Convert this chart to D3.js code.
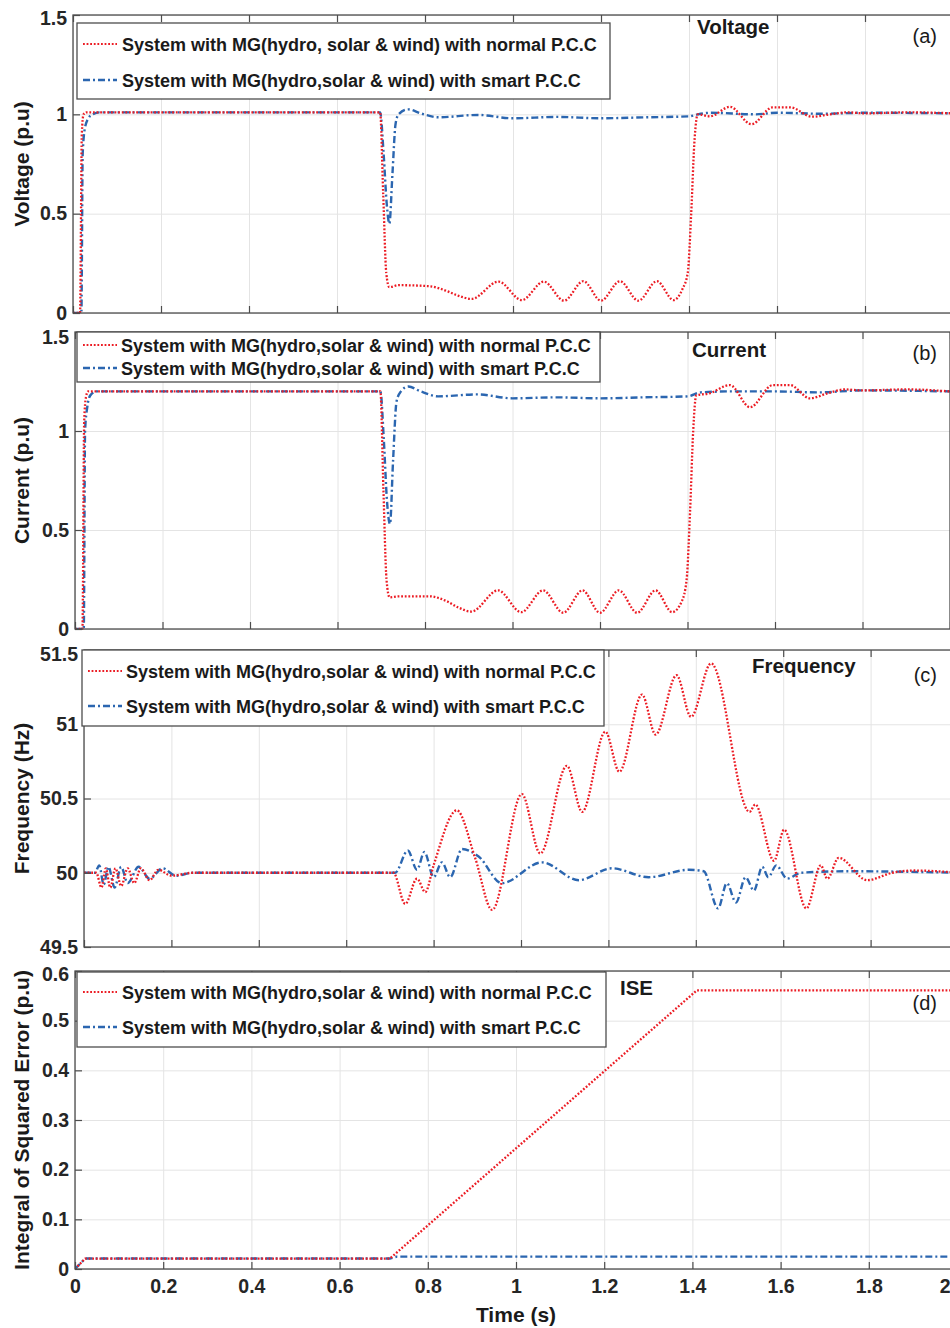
<!DOCTYPE html>
<html>
<head>
<meta charset="utf-8">
<script src="https://cdn.jsdelivr.net/npm/d3@7"></script>
<style>
  body { margin: 0; background: #fff; }
  svg { display: block; font-family: "Liberation Sans", Arial, sans-serif; }
  .grid line { stroke: #e4e4e4; stroke-width: 1; }
  .grid path { display: none; }
  .axis path { display: none; }
  .axis line { stroke: #4d4d4d; stroke-width: 1.2; }
  .axis text { font-size: 19.5px; font-weight: bold; fill: #262626; }
</style>
</head>
<body>
<div id="chart"></div>
<script>
// ---- data: [time (s), value] ----
const timeTicks = [0, 0.2, 0.4, 0.6, 0.8, 1, 1.2, 1.4, 1.6, 1.8, 2];

const voltTicks = [0, 0.5, 1, 1.5];
const currTicks = [0, 0.5, 1, 1.5];
const freqTicks = [49.5, 50, 50.5, 51, 51.5];
const iseTicks = [0, 0.1, 0.2, 0.3, 0.4, 0.5, 0.6];

const voltNormal = [[0,0],[0.016,0],[0.02,0.9],[0.024,1.0],[0.03,1.01],[0.3,1.01],[0.5,1.01],[0.698,1.01],
  [0.705,0.6],[0.712,0.2],[0.719,0.13],[0.74,0.14],[0.81,0.135],[0.85,0.11],[0.872,0.09],[0.906,0.071],
  [0.967,0.158],[1.02,0.065],[1.07,0.158],[1.116,0.062],[1.16,0.16],[1.2,0.062],[1.243,0.16],[1.285,0.062],
  [1.327,0.16],[1.365,0.065],[1.385,0.12],[1.397,0.2],[1.405,0.5],[1.412,0.85],[1.42,1.0],[1.448,0.99],
  [1.493,1.038],[1.542,0.95],[1.59,1.035],[1.63,1.035],[1.68,0.988],[1.72,1.0],[1.76,1.01],[1.8,1.005],
  [1.9,1.01],[2,1.005]];

const voltSmart = [[0,0],[0.019,0],[0.022,0.8],[0.027,0.93],[0.035,0.98],[0.045,1.0],[0.06,1.01],[0.3,1.01],
  [0.698,1.01],[0.706,0.8],[0.713,0.55],[0.719,0.45],[0.726,0.7],[0.733,0.95],[0.74,1.0],[0.762,1.025],
  [0.79,1.005],[0.83,0.985],[0.92,0.997],[1.0,0.98],[1.1,0.987],[1.2,0.98],[1.3,0.985],[1.4,0.99],
  [1.42,1.0],[1.45,1.008],[1.55,1.0],[1.6,1.008],[1.7,1.003],[1.8,1.008],[2,1.005]];

const currNormal = [[0,0],[0.017,0],[0.021,1.05],[0.025,1.17],[0.03,1.2],[0.698,1.2],[0.705,0.7],[0.712,0.25],
  [0.719,0.16],[0.74,0.165],[0.81,0.165],[0.85,0.14],[0.875,0.11],[0.906,0.088],[0.967,0.195],[1.02,0.085],
  [1.07,0.195],[1.116,0.082],[1.16,0.195],[1.2,0.082],[1.243,0.195],[1.285,0.082],[1.327,0.195],[1.365,0.085],
  [1.387,0.14],[1.398,0.25],[1.406,0.6],[1.413,1.0],[1.42,1.18],[1.45,1.19],[1.497,1.232],[1.543,1.12],
  [1.595,1.232],[1.634,1.232],[1.68,1.165],[1.72,1.19],[1.76,1.21],[1.8,1.205],[1.9,1.21],[2,1.2]];

const currSmart = [[0,0],[0.02,0],[0.023,1.0],[0.028,1.12],[0.035,1.18],[0.05,1.2],[0.698,1.2],[0.706,0.95],
  [0.713,0.65],[0.72,0.53],[0.727,0.85],[0.735,1.15],[0.745,1.2],[0.762,1.225],[0.79,1.2],[0.83,1.175],
  [0.92,1.185],[1.0,1.165],[1.1,1.17],[1.2,1.165],[1.3,1.17],[1.4,1.175],[1.43,1.195],[1.5,1.2],
  [1.6,1.2],[1.7,1.195],[1.8,1.205],[2,1.2]];

const freqNormal = [[0,50],[0.028,50],[0.04,49.9],[0.05,50.03],[0.06,49.9],[0.072,50.03],[0.085,49.91],
  [0.1,50.03],[0.115,49.93],[0.13,50.03],[0.15,49.95],[0.17,50.02],[0.2,49.98],[0.25,50.0],[0.708,50.0],
  [0.735,49.79],[0.762,49.96],[0.781,49.87],[0.8,50.05],[0.853,50.42],[0.895,50.1],[0.934,49.75],
  [1.002,50.53],[1.044,50.13],[1.105,50.72],[1.14,50.41],[1.193,50.95],[1.225,50.68],[1.277,51.2],
  [1.308,50.93],[1.356,51.33],[1.389,51.05],[1.435,51.41],[1.523,50.41],[1.536,50.46],[1.579,50.08],
  [1.602,50.29],[1.653,49.76],[1.686,50.05],[1.701,49.96],[1.727,50.1],[1.792,49.95],[1.85,50.0],
  [1.9,50.015],[2,50.0]];

const freqSmart = [[0,50],[0.025,50],[0.035,50.05],[0.045,49.92],[0.056,50.04],[0.07,49.9],[0.085,50.04],
  [0.1,49.93],[0.125,50.04],[0.15,49.96],[0.18,50.03],[0.21,49.98],[0.25,50.0],[0.712,50.0],[0.741,50.15],
  [0.762,50.02],[0.779,50.14],[0.8,49.97],[0.819,50.07],[0.838,49.97],[0.865,50.16],[0.903,50.11],
  [0.956,49.93],[1.048,50.07],[1.132,49.95],[1.208,50.03],[1.292,49.97],[1.384,50.02],[1.418,50.01],
  [1.451,49.76],[1.471,49.93],[1.492,49.8],[1.514,49.97],[1.533,49.88],[1.552,50.04],[1.566,49.97],
  [1.584,50.05],[1.609,49.96],[1.64,50.0],[1.75,50.01],[2,50.0]];

const iseNormal = [[0,0],[0.023,0.021],[0.714,0.021],[1.41,0.561],[2,0.561]];
const iseSmart = [[0,0],[0.023,0.021],[0.714,0.021],[0.73,0.025],[2,0.025]];

const legendA = ["System with MG(hydro, solar & wind) with normal P.C.C",
                 "System with MG(hydro,solar & wind) with smart P.C.C"];
const legendB = ["System with MG(hydro,solar & wind) with normal P.C.C",
                 "System with MG(hydro,solar & wind) with smart P.C.C"];

const RED = "#ec1c24";
const BLUE = "#2b66b0";

const svg = d3.select("#chart").append("svg")
    .attr("width", 950)
    .attr("height", 1328);

const panels = [
  {id: "a", left: 73, right: 953, top: 15, bottom: 313, yDomain: [0, 1.5], yTicks: voltTicks,
   normal: voltNormal, smart: voltSmart, curve: d3.curveMonotoneX, yLabel: "Voltage (p.u)",
   legend: legendA, box: [77, 23, 533, 76], rows: [51, 87], sampleX: 83, textX: 122,
   title: "Voltage", titleX: 697, titleY: 34, tag: "(a)", tagY: 43, topShift: 3},
  {id: "b", left: 75, right: 950, top: 332, bottom: 629, yDomain: [0, 1.5], yTicks: currTicks,
   normal: currNormal, smart: currSmart, curve: d3.curveMonotoneX, yLabel: "Current (p.u)",
   legend: legendB, box: [77, 332, 523, 50], rows: [352, 375], sampleX: 83, textX: 121,
   title: "Current", titleX: 692, titleY: 357, tag: "(b)", tagY: 360, topShift: 5},
  {id: "c", left: 84, right: 958, top: 650, bottom: 947, yDomain: [49.5, 51.5], yTicks: freqTicks,
   normal: freqNormal, smart: freqSmart, curve: d3.curveMonotoneX, yLabel: "Frequency (Hz)",
   legend: legendB, box: [82, 650, 522, 76], rows: [678, 713], sampleX: 88, textX: 126,
   title: "Frequency", titleX: 752, titleY: 673, tag: "(c)", tagY: 682, topShift: 4},
  {id: "d", left: 75, right: 957, top: 971, bottom: 1269, yDomain: [0, 0.6], yTicks: iseTicks,
   normal: iseNormal, smart: iseSmart, curve: d3.curveLinear, yLabel: "Integral of Squared Error (p.u)",
   legend: legendB, box: [77, 972, 529, 75], rows: [999, 1034], sampleX: 83, textX: 122,
   title: "ISE", titleX: 620, titleY: 995, tag: "(d)", tagY: 1010, topShift: 3, showTime: true}
];

panels.forEach(p => drawPanel(p));

function drawPanel(p)
{
    let g = svg.append("g").attr("class", "panel-" + p.id);
    let w = p.right - p.left;
    let h = p.bottom - p.top;

    let xScale = d3.scaleLinear().domain([0, 2]).range([p.left, p.right]);
    let yScale = d3.scaleLinear().domain(p.yDomain).range([p.bottom, p.top]);

    // grid
    g.append("g").attr("class", "grid")
        .attr("transform", `translate(0,${p.bottom})`)
        .call(d3.axisBottom(xScale).tickValues(timeTicks).tickSize(-h).tickFormat(""));
    g.append("g").attr("class", "grid")
        .attr("transform", `translate(${p.left},0)`)
        .call(d3.axisLeft(yScale).tickValues(p.yTicks).tickSize(-w).tickFormat(""));

    // curves
    g.append("clipPath").attr("id", "clip-" + p.id)
        .append("rect").attr("x", p.left).attr("y", p.top - 2).attr("width", w).attr("height", h + 3);

    let line = d3.line()
        .x(d => xScale(d[0]))
        .y(d => yScale(d[1]))
        .curve(p.curve);

    g.append("path").datum(p.smart)
        .attr("clip-path", `url(#clip-${p.id})`)
        .attr("d", line)
        .attr("fill", "none")
        .attr("stroke", BLUE)
        .attr("stroke-width", 2.4)
        .attr("stroke-dasharray", "7,3,2,3");

    g.append("path").datum(p.normal)
        .attr("clip-path", `url(#clip-${p.id})`)
        .attr("d", line)
        .attr("fill", "none")
        .attr("stroke", RED)
        .attr("stroke-width", 2.3)
        .attr("stroke-dasharray", "1.8,1.8");

    // frame
    g.append("rect")
        .attr("x", p.left).attr("y", p.top)
        .attr("width", w).attr("height", h)
        .attr("fill", "none")
        .attr("stroke", "#4d4d4d")
        .attr("stroke-width", 1.3);

    // axes with inward ticks
    let xBottom = d3.axisBottom(xScale).tickValues(timeTicks).tickSize(-7).tickSizeOuter(0).tickPadding(10)
        .tickFormat(p.showTime ? d3.format("~g") : "");
    let xAxisG = g.append("g").attr("class", "axis")
        .attr("transform", `translate(0,${p.bottom})`)
        .call(xBottom);
    xAxisG.attr("font-size", null).attr("font-family", null);

    g.append("g").attr("class", "axis")
        .attr("transform", `translate(0,${p.top})`)
        .call(d3.axisTop(xScale).tickValues(timeTicks).tickSize(-7).tickSizeOuter(0).tickFormat(""));

    let yAxisG = g.append("g").attr("class", "axis")
        .attr("transform", `translate(${p.left},0)`)
        .call(d3.axisLeft(yScale).tickValues(p.yTicks).tickSize(-7).tickSizeOuter(0).tickPadding(6)
            .tickFormat(d3.format("~g")));
    yAxisG.attr("font-size", null).attr("font-family", null);

    // the top label sits a little below its tick, as in the figure
    let yMax = p.yDomain[1];
    yAxisG.selectAll(".tick text")
        .filter(d => Math.abs(d - yMax) < 1e-9)
        .attr("y", p.topShift);

    if (p.showTime) {
        // the last label sits at the cut edge of the picture
        xAxisG.selectAll(".tick text")
            .filter(d => d === 2)
            .attr("text-anchor", "end")
            .attr("dx", 950 - xScale(2));

        svg.append("text")
            .attr("x", 516)
            .attr("y", 1322)
            .attr("text-anchor", "middle")
            .attr("font-size", "21px")
            .attr("font-weight", "bold")
            .attr("fill", "#1a1a1a")
            .text("Time (s)");
    }

    // y label
    g.append("text")
        .attr("transform", `translate(29,${(p.top + p.bottom) / 2}) rotate(-90)`)
        .attr("text-anchor", "middle")
        .attr("font-size", "21px")
        .attr("font-weight", "bold")
        .attr("fill", "#1a1a1a")
        .text(p.yLabel);

    // title and tag
    g.append("text")
        .attr("x", p.titleX).attr("y", p.titleY)
        .attr("font-size", "20.5px")
        .attr("font-weight", "bold")
        .attr("fill", "#1a1a1a")
        .text(p.title);

    g.append("text")
        .attr("x", 937).attr("y", p.tagY)
        .attr("text-anchor", "end")
        .attr("font-size", "20px")
        .attr("fill", "#1a1a1a")
        .text(p.tag);

    // legend
    let lg = g.append("g").attr("class", "legend");
    lg.append("rect")
        .attr("x", p.box[0]).attr("y", p.box[1])
        .attr("width", p.box[2]).attr("height", p.box[3])
        .attr("fill", "white")
        .attr("stroke", "#4d4d4d")
        .attr("stroke-width", 1.3);

    let styles = [
        {color: RED, dash: "1.8,1.8", width: 2.2},
        {color: BLUE, dash: "7,3,2,3", width: 2.4}
    ];

    p.legend.forEach((label, i) => {
        let yy = p.rows[i];
        lg.append("line")
            .attr("x1", p.sampleX).attr("x2", p.sampleX + 34)
            .attr("y1", yy - 7).attr("y2", yy - 7)
            .attr("stroke", styles[i].color)
            .attr("stroke-width", styles[i].width)
            .attr("stroke-dasharray", styles[i].dash);
        lg.append("text")
            .attr("x", p.textX).attr("y", yy)
            .attr("font-size", "18px")
            .attr("font-weight", "bold")
            .attr("fill", "#1a1a1a")
            .text(label);
    });
}
</script>
</body>
</html>
